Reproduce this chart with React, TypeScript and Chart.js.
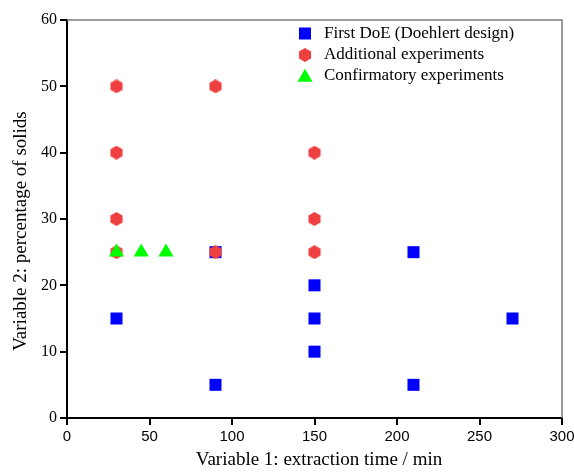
import React, { useEffect, useRef } from 'react';
import { Chart, registerables } from 'chart.js';

Chart.register(...registerables);

// ---- data ----
const doeX = [30, 90, 90, 150, 150, 150, 210, 210, 270];
const doeY = [15, 25, 5, 20, 15, 10, 25, 5, 15];
const addX = [30, 30, 30, 30, 90, 90, 150, 150, 150];
const addY = [50, 40, 30, 25, 50, 25, 40, 30, 25];
const confX = [30, 45, 60];
const confY = [25, 25, 25];
const seriesLabels = [
  'First DoE (Doehlert design)',
  'Additional experiments',
  'Confirmatory experiments',
];
const xTitle = 'Variable 1: extraction time / min';
const yTitle = 'Variable 2: percentage of solids';

const BLUE = '#0000FF';
const RED = '#EE4040';
const GREEN = '#00FF00';

function makeHex(color: string): HTMLCanvasElement {
  const c = document.createElement('canvas');
  c.width = 14;
  c.height = 14;
  const ctx = c.getContext('2d')!;
  ctx.fillStyle = color;
  ctx.beginPath();
  for (let i = 0; i < 6; i++) {
    const a = -Math.PI / 2 + (i * Math.PI) / 3;
    const px = 7 + 7 * Math.cos(a);
    const py = 7 + 7 * Math.sin(a);
    if (i === 0) ctx.moveTo(px, py);
    else ctx.lineTo(px, py);
  }
  ctx.closePath();
  ctx.fill();
  return c;
}

export default function App() {
  const ref = useRef<HTMLCanvasElement | null>(null);

  useEffect(() => {
    if (!ref.current) return;
    const hex = makeHex(RED);
    const toPts = (xs: number[], ys: number[]) => xs.map((x, i) => ({ x, y: ys[i] }));

    const framePlugin = {
      id: 'frame',
      beforeDatasetsDraw(chart: any) {
        const { ctx, chartArea } = chart;
        ctx.save();
        ctx.strokeStyle = '#7a7a7a';
        ctx.lineWidth = 1.5;
        ctx.beginPath();
        ctx.moveTo(chartArea.left, chartArea.top);
        ctx.lineTo(chartArea.right, chartArea.top);
        ctx.lineTo(chartArea.right, chartArea.bottom);
        ctx.stroke();
        ctx.restore();
      },
    };

    const titlePlugin = {
      id: 'axisTitles',
      afterDraw(chart: any) {
        const { ctx, chartArea } = chart;
        ctx.save();
        ctx.fillStyle = '#000';
        ctx.font = '19px "Liberation Serif"';
        ctx.textAlign = 'center';
        ctx.textBaseline = 'middle';
        const cx = (chartArea.left + chartArea.right) / 2 + 4.5;
        ctx.fillText(xTitle, cx, 460.5);
        ctx.translate(21, (chartArea.top + chartArea.bottom) / 2 + 12);
        ctx.rotate(-Math.PI / 2);
        ctx.fillText(yTitle, 0, 0);
        ctx.restore();
      },
    };

    const legendPlugin = {
      id: 'customLegend',
      afterDraw(chart: any) {
        const { ctx } = chart;
        const mx = 305;
        const tx = 324;
        const rows = [33.5, 55, 76];
        ctx.save();
        ctx.fillStyle = BLUE;
        ctx.fillRect(mx - 6, rows[0] - 6, 12, 12);
        ctx.drawImage(hex, mx - 7, rows[1] - 7, 14, 14);
        const r = 8.7;
        ctx.fillStyle = GREEN;
        ctx.beginPath();
        const cy = rows[2] + 1.5;
        ctx.moveTo(mx, cy - r);
        ctx.lineTo(mx + r * Math.cos(Math.PI / 6), cy + r / 2);
        ctx.lineTo(mx - r * Math.cos(Math.PI / 6), cy + r / 2);
        ctx.closePath();
        ctx.fill();
        ctx.fillStyle = '#000';
        ctx.font = '17px "Liberation Serif"';
        ctx.textBaseline = 'middle';
        ctx.textAlign = 'left';
        seriesLabels.forEach((l, i) => ctx.fillText(l, tx, rows[i]));
        ctx.restore();
      },
    };

    const chart = new Chart(ref.current, {
      type: 'scatter',
      data: {
        datasets: [
          {
            label: seriesLabels[0],
            data: toPts(doeX, doeY),
            pointStyle: 'rect',
            pointRadius: 8.5,
            pointHoverRadius: 8.5,
            backgroundColor: BLUE,
            borderWidth: 0,
            order: 3,
          },
          {
            label: seriesLabels[1],
            data: toPts(addX, addY),
            pointStyle: hex,
            pointRadius: 7,
            backgroundColor: RED,
            borderWidth: 0,
            order: 2,
          },
          {
            label: seriesLabels[2],
            data: toPts(confX, confY),
            pointStyle: 'triangle',
            pointRadius: 8.7,
            pointHoverRadius: 8.7,
            backgroundColor: GREEN,
            borderWidth: 0,
            order: 1,
          },
        ],
      },
      options: {
        animation: false,
        responsive: true,
        maintainAspectRatio: false,
        layout: { padding: { left: 0, top: 20, right: 12, bottom: 0 } },
        plugins: {
          legend: { display: false },
          tooltip: { enabled: false },
        },
        scales: {
          x: {
            type: 'linear',
            min: 0,
            max: 300,
            ticks: {
              stepSize: 50,
              color: '#000',
              padding: 3,
              maxRotation: 0,
              font: { family: 'Liberation Sans', size: 15 },
            },
            grid: {
              drawOnChartArea: false,
              drawTicks: true,
              tickLength: 7,
              color: '#000',
              lineWidth: 2,
            },
            border: { display: true, color: '#000', width: 2 },
            title: { display: false },
            afterFit(scale: any) {
              scale.height = 57;
              scale.paddingLeft = 0;
              scale.paddingRight = 0;
            },
          },
          y: {
            type: 'linear',
            min: 0,
            max: 60,
            ticks: {
              stepSize: 10,
              color: '#000',
              padding: 3,
              font: { family: 'Liberation Serif', size: 16 },
            },
            grid: {
              drawOnChartArea: false,
              drawTicks: true,
              tickLength: 7,
              color: '#000',
              lineWidth: 2,
            },
            border: { display: true, color: '#000', width: 2 },
            title: { display: false },
            afterFit(scale: any) {
              scale.width = 67;
              scale.paddingTop = 0;
              scale.paddingBottom = 0;
            },
          },
        },
      },
      plugins: [framePlugin, titlePlugin, legendPlugin],
    } as any);

    return () => chart.destroy();
  }, []);

  return (
    <div style={{ position: 'absolute', left: 0, top: 0, width: 574, height: 475, background: '#fff' }}>
      <canvas ref={ref} />
    </div>
  );
}
